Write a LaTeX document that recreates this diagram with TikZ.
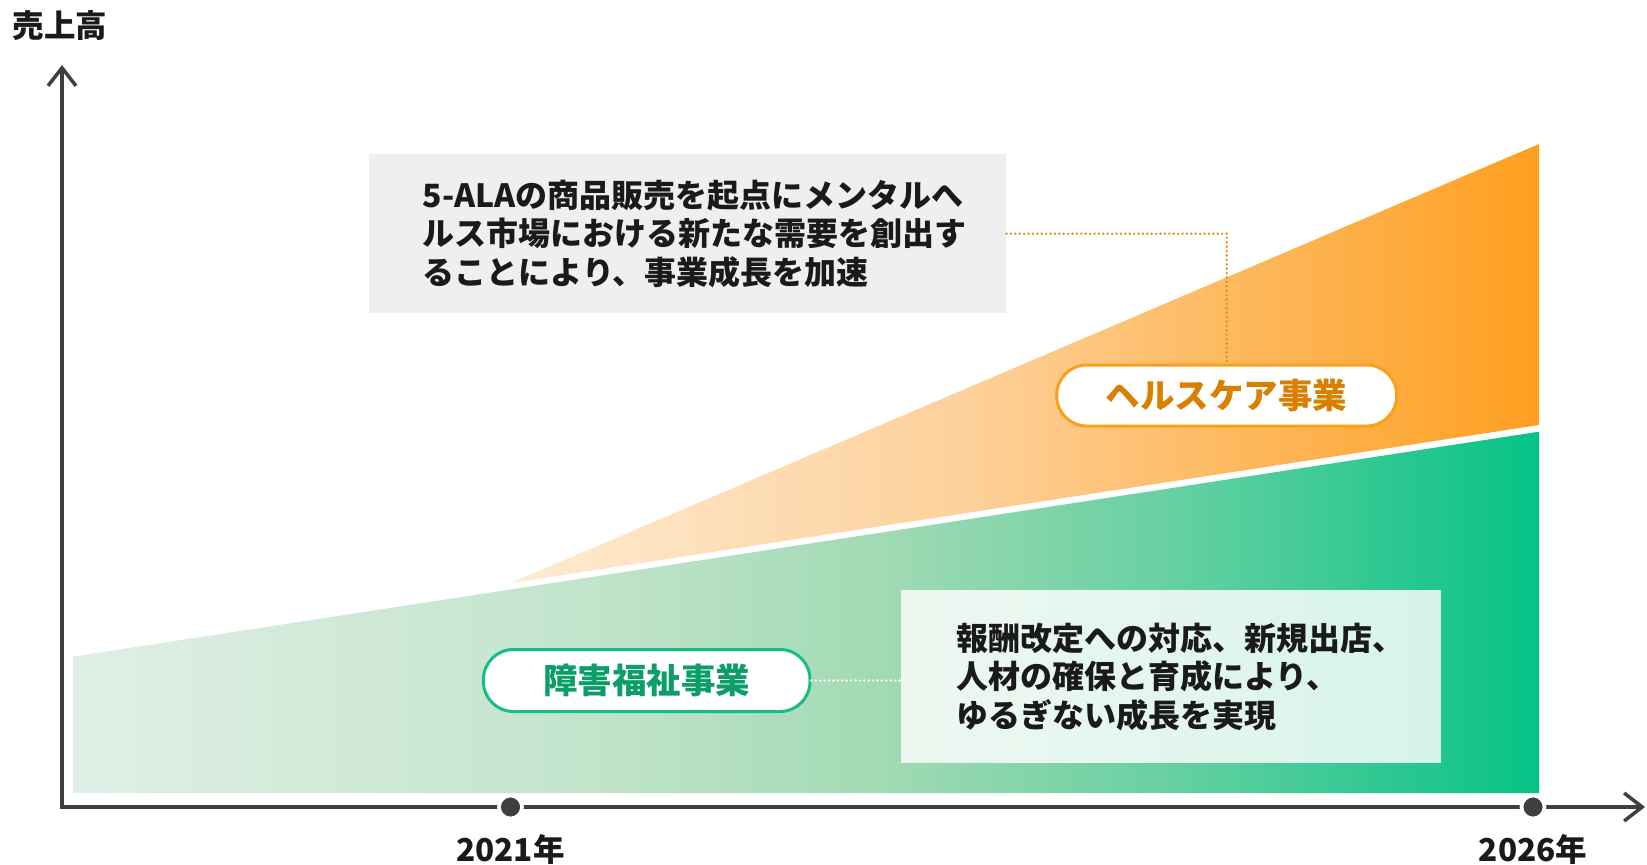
\documentclass[tikz,border=0pt]{standalone}
\usepackage{fontspec}
\setmainfont{Noto Sans CJK JP}
\usetikzlibrary{arrows.meta,positioning}
\definecolor{axisgray}{HTML}{3F3F3F}
\definecolor{textblack}{HTML}{1A1A1A}
\definecolor{boxgray}{HTML}{EFEFEF}
\definecolor{orangeline}{HTML}{F9A11B}
\definecolor{orangetext}{HTML}{D98000}
\definecolor{orangedot}{HTML}{E08A1A}
\definecolor{greenline}{HTML}{14BE84}
\definecolor{greentext}{HTML}{0C9D68}
\definecolor{greenA}{HTML}{E0EFE6}
\definecolor{greenB}{HTML}{C2E4CB}
\definecolor{greenC}{HTML}{A2DAB3}
\definecolor{greenD}{HTML}{66D0A2}
\definecolor{greenE}{HTML}{06C286}
\definecolor{orangeA}{HTML}{FEEBD3}
\definecolor{orangeB}{HTML}{FDD099}
\definecolor{orangeC}{HTML}{FDB95F}
\definecolor{orangeE}{HTML}{FE9F20}
\pgfdeclarehorizontalshading{welfareshade}{100bp}{color(0bp)=(greenA); color(25bp)=(greenA); color(42.5bp)=(greenB); color(52.5bp)=(greenC); color(62.5bp)=(greenD); color(75bp)=(greenE); color(100bp)=(greenE)}
\pgfdeclarehorizontalshading{healthshade}{100bp}{color(0bp)=(orangeA); color(25bp)=(orangeA); color(47.5bp)=(orangeB); color(60bp)=(orangeC); color(75bp)=(orangeE); color(100bp)=(orangeE)}
\tikzset{
  axisline/.style={line width=3.5pt, color=axisgray},
  yeardot/.style={circle, fill=axisgray, draw=white, line width=3.7pt, minimum size=23pt, inner sep=0pt},
  yearlabel/.style={inner sep=0pt, text=textblack, font=\fontsize{31.5}{31.5}\selectfont\bfseries},
  graybox/.style={fill=boxgray, minimum width=637.6pt, minimum height=158.6pt, inner sep=0pt},
  greenbox/.style={fill=white, fill opacity=0.82, minimum width=539.7pt, minimum height=173.1pt, inner sep=0pt},
  notetext/.style={inner sep=0pt, align=left, text=textblack, font=\fontsize{32}{38.5}\selectfont\bfseries},
  healthpill/.style={draw=orangeline, fill=white, line width=3pt, rounded corners=30pt, minimum width=340pt, minimum height=61pt, inner sep=0pt, text=orangetext, font=\fontsize{34.5}{34.5}\selectfont\bfseries},
  welfarepill/.style={draw=greenline, fill=white, line width=3pt, rounded corners=30pt, minimum width=326.6pt, minimum height=62pt, inner sep=0pt, text=greentext, font=\fontsize{34.5}{34.5}\selectfont\bfseries},
  orangedots/.style={draw=orangedot, line width=2.6pt, line cap=round, dash pattern=on 0pt off 4.4pt},
  whitedots/.style={draw=white, line width=2.6pt, line cap=round, dash pattern=on 0pt off 4.4pt}
}
\begin{document}
\begin{tikzpicture}[x=1pt,y=-1pt]
\useasboundingbox (0,0) rectangle (1647,865);
% sales areas
\shade[shading=welfareshade] (73.5,656.5)--(1539,431.7)--(1539,793)--(73.5,793)--cycle;
\shade[shading=healthshade] (510.5,583)--(1539,144)--(1539,425)--cycle;
% axes
\coordinate (origin) at (62,807);
\coordinate (ytip) at (62,65);
\coordinate (xtip) at (1645,807);
\draw[axisline, {Straight Barb[length=18pt,width=28pt]}-{Straight Barb[length=18pt,width=28pt]}] (ytip)--(origin)--(xtip);
\node[yeardot] (y2021) at (510.5,807) {};
\node[yeardot] (y2026) at (1533,807) {};
\node[yearlabel] (l2021) at (510.5,849.5) {2021年};
\node[yearlabel] (l2026) at (1533,849.5) {2026年};
\node[yearlabel] (sales) at (59.8,26) {売上高};
% notes
\node[graybox] (healthbox) at (687.5,233.7) {};
\node[notetext, anchor=west] (healthnote) at ([xshift=54pt]healthbox.west) {5-ALAの商品販売を起点にメンタルへ\\ルス市場における新たな需要を創出す\\ることにより、事業成長を加速};
\node[greenbox] (welfarebox) at (1171.2,676.8) {};
\node[notetext, anchor=west] (welfarenote) at ([xshift=54.7pt]welfarebox.west) {報酬改定への対応、新規出店、\\人材の確保と育成により、\\ゆるぎない成長を実現};
% business labels
\node[healthpill] (health) at (1226.7,395.5) {ヘルスケア事業};
\node[welfarepill] (welfare) at (646.7,680.5) {障害福祉事業};
\draw[orangedots] (healthbox.east) -| (health.north);
\draw[whitedots] (welfare.east) -- (welfare.east -| welfarebox.west);
\end{tikzpicture}
\end{document}
